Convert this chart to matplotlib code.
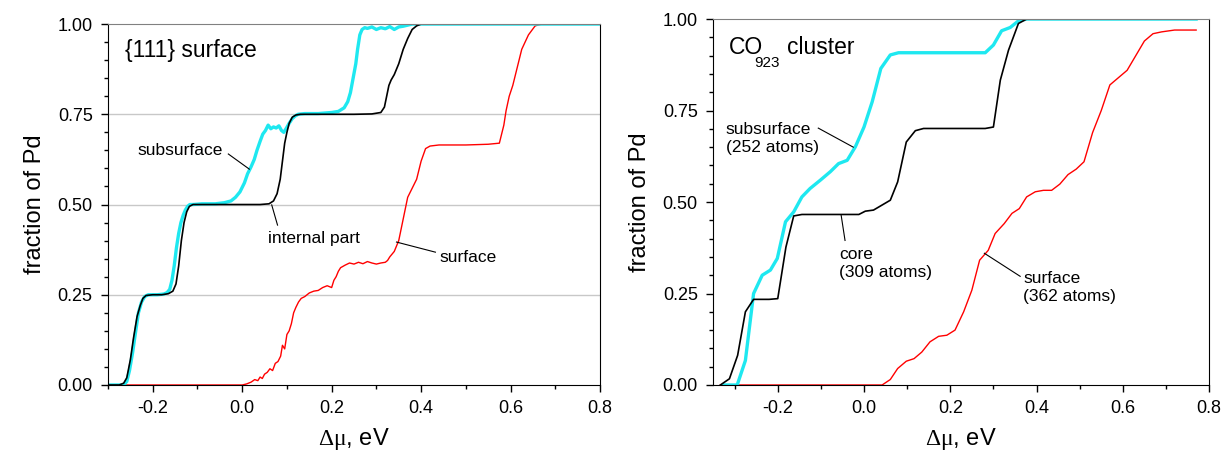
import numpy as np
import matplotlib
matplotlib.use("Agg")
from matplotlib import pyplot as plt
from matplotlib.ticker import MultipleLocator, FormatStrFormatter

plt.rcParams['font.family'] = ['Liberation Sans', 'DejaVu Sans']
plt.rcParams['axes.unicode_minus'] = False
plt.rcParams['mathtext.fontset'] = 'custom'
plt.rcParams['mathtext.rm'] = 'Liberation Sans'
plt.rcParams['mathtext.cal'] = 'Liberation Serif'

CYAN = '#1ee8f0'

# ---- left panel: {111} surface ----
int_x = [-0.30, -0.275, -0.265, -0.258, -0.25, -0.243, -0.235, -0.228, -0.222, -0.215, -0.20, -0.18,
         -0.165, -0.155, -0.148, -0.142, -0.136, -0.13, -0.124, -0.118, -0.11, -0.10, -0.08, -0.04, 0.0,
         0.04, 0.06, 0.07, 0.078, 0.085, 0.09, 0.095, 0.10, 0.105, 0.112, 0.12, 0.13, 0.15, 0.2, 0.25,
         0.29, 0.31, 0.318, 0.323, 0.328, 0.333, 0.34, 0.35, 0.36, 0.37, 0.38, 0.39, 0.40, 0.42, 0.5,
         0.6, 0.7, 0.8]
int_y = [0, 0.0, 0.005, 0.02, 0.07, 0.13, 0.19, 0.22, 0.24, 0.248, 0.25, 0.25,
         0.253, 0.26, 0.28, 0.33, 0.40, 0.45, 0.48, 0.495, 0.50, 0.5, 0.5, 0.5, 0.5,
         0.5, 0.502, 0.51, 0.53, 0.57, 0.62, 0.67, 0.70, 0.725, 0.742, 0.748, 0.75, 0.75, 0.75, 0.75,
         0.751, 0.755, 0.77, 0.80, 0.83, 0.845, 0.86, 0.89, 0.93, 0.96, 0.985, 0.995, 1.0, 1.0, 1.0,
         1.0, 1.0, 1.0]

sub_x = [-0.30, -0.265, -0.258, -0.252, -0.245, -0.238, -0.232, -0.225, -0.218, -0.21, -0.19, -0.175,
         -0.168, -0.162, -0.157, -0.152, -0.147, -0.142, -0.137, -0.132, -0.127, -0.122, -0.117, -0.11,
         -0.09, -0.06, -0.04, -0.025, -0.015, -0.005, 0.005, 0.012, 0.02, 0.027, 0.033, 0.04, 0.046,
         0.052, 0.058, 0.064, 0.07, 0.076, 0.082, 0.088, 0.093, 0.099, 0.105, 0.112, 0.118, 0.125, 0.14,
         0.17, 0.2, 0.215, 0.228, 0.236, 0.242, 0.248, 0.254, 0.258, 0.263, 0.268, 0.274, 0.28, 0.29,
         0.3, 0.31, 0.32, 0.33, 0.34, 0.35, 0.36, 0.37, 0.38, 0.4, 0.5, 0.6, 0.7, 0.8]
sub_y = [0, 0, 0.01, 0.04, 0.09, 0.15, 0.2, 0.23, 0.245, 0.25, 0.25, 0.252,
         0.256, 0.265, 0.29, 0.33, 0.38, 0.42, 0.45, 0.47, 0.485, 0.495, 0.5, 0.5,
         0.502, 0.502, 0.505, 0.51, 0.52, 0.535, 0.56, 0.585, 0.605, 0.625, 0.65, 0.675, 0.695,
         0.705, 0.72, 0.71, 0.715, 0.712, 0.718, 0.705, 0.7, 0.712, 0.725, 0.738, 0.745, 0.75, 0.752,
         0.752, 0.755, 0.758, 0.768, 0.785, 0.81, 0.85, 0.89, 0.93, 0.97, 0.985, 0.99, 0.988, 0.992,
         0.985, 0.99, 0.987, 0.993, 0.985, 0.992, 0.994, 0.997, 1.0, 1.0, 1.0, 1.0, 1.0, 1.0]

surf_x = [-0.3, 0.0, 0.01, 0.02, 0.028, 0.035, 0.04, 0.045, 0.05, 0.056, 0.062, 0.068, 0.074, 0.08,
          0.086, 0.09, 0.095, 0.1, 0.105, 0.11, 0.115, 0.12, 0.126, 0.132, 0.14, 0.15, 0.16, 0.17, 0.18,
          0.19, 0.2, 0.205, 0.21, 0.215, 0.22, 0.23, 0.24, 0.25, 0.26, 0.27, 0.28, 0.29, 0.3, 0.31, 0.32,
          0.325, 0.33, 0.34, 0.35, 0.36, 0.37, 0.38, 0.39, 0.40, 0.41, 0.42, 0.44, 0.5, 0.55, 0.575,
          0.585, 0.59, 0.597, 0.605, 0.615, 0.625, 0.64, 0.655, 0.67, 0.7, 0.8]
surf_y = [0, 0, 0.003, 0.008, 0.015, 0.012, 0.022, 0.018, 0.03, 0.035, 0.045, 0.04, 0.06, 0.065,
          0.08, 0.11, 0.1, 0.14, 0.15, 0.17, 0.2, 0.215, 0.23, 0.24, 0.245, 0.255, 0.26, 0.262, 0.27,
          0.275, 0.27, 0.29, 0.3, 0.315, 0.325, 0.332, 0.338, 0.335, 0.34, 0.336, 0.342, 0.338, 0.335,
          0.338, 0.34, 0.345, 0.355, 0.37, 0.40, 0.46, 0.52, 0.545, 0.57, 0.62, 0.655, 0.662, 0.665,
          0.665, 0.667, 0.67, 0.72, 0.76, 0.8, 0.83, 0.88, 0.93, 0.97, 0.995, 1.0, 1.0, 1.0]

# ---- right panel: CO923 cluster ----
csub_x = [-0.326, -0.294, -0.275, -0.256, -0.236, -0.217, -0.201, -0.182, -0.163, -0.144, -0.125,
          -0.101, -0.078, -0.059, -0.039, -0.02, 0.0, 0.019, 0.039, 0.061, 0.08, 0.12, 0.2, 0.281,
          0.3, 0.319, 0.339, 0.358, 0.377, 0.5, 0.6, 0.77]
csub_y = [0.0, 0.0, 0.067, 0.25, 0.3, 0.314, 0.346, 0.446, 0.473, 0.514, 0.537,
          0.56, 0.583, 0.605, 0.614, 0.651, 0.705, 0.774, 0.865, 0.902, 0.908, 0.908, 0.908, 0.908,
          0.929, 0.968, 0.977, 0.995, 1.0, 1.0, 1.0, 1.0]

core_x = [-0.333, -0.312, -0.293, -0.275, -0.256, -0.22, -0.2, -0.181, -0.163, -0.144, -0.1, -0.05,
          -0.012, 0.003, 0.022, 0.061, 0.078, 0.098, 0.119, 0.138, 0.2, 0.281, 0.3, 0.316, 0.335,
          0.358, 0.377, 0.5, 0.6, 0.77]
core_y = [0.0, 0.017, 0.081, 0.2, 0.234, 0.234, 0.236, 0.377, 0.462, 0.466, 0.466, 0.466,
          0.466, 0.475, 0.478, 0.505, 0.555, 0.664, 0.695, 0.701, 0.701, 0.701, 0.705, 0.833, 0.915,
          0.988, 1.0, 1.0, 1.0, 1.0]

csurf_x = [-0.333, 0.042, 0.061, 0.078, 0.098, 0.116, 0.134, 0.153, 0.173, 0.192, 0.211, 0.231,
           0.25, 0.268, 0.288, 0.304, 0.325, 0.343, 0.36, 0.377, 0.397, 0.416, 0.435, 0.454, 0.473,
           0.492, 0.51, 0.53, 0.55, 0.57, 0.59, 0.61, 0.63, 0.65, 0.67, 0.69, 0.72, 0.77]
csurf_y = [0.0, 0.0, 0.015, 0.045, 0.065, 0.072, 0.09, 0.118, 0.133, 0.136, 0.15, 0.2,
           0.259, 0.341, 0.368, 0.414, 0.441, 0.469, 0.482, 0.514, 0.528, 0.532, 0.532, 0.549, 0.575,
           0.59, 0.61, 0.69, 0.75, 0.82, 0.84, 0.86, 0.9, 0.94, 0.96, 0.965, 0.97, 0.97]


def style_axes(ax, xmin):
    ax.set_xlim(xmin, 0.8)
    ax.set_ylim(0, 1)
    ax.xaxis.set_major_locator(MultipleLocator(0.2))
    ax.xaxis.set_minor_locator(MultipleLocator(0.1))
    ax.yaxis.set_major_locator(MultipleLocator(0.25))
    ax.yaxis.set_minor_locator(MultipleLocator(0.05))
    ax.xaxis.set_major_formatter(FormatStrFormatter('%.1f'))
    ax.yaxis.set_major_formatter(FormatStrFormatter('%.2f'))
    ax.tick_params(which='major', direction='out', length=5, width=1, labelsize=13, pad=6)
    ax.tick_params(which='minor', direction='out', length=3, width=1)
    ax.spines['top'].set_color('#808080')
    for s in ('left', 'bottom', 'right'):
        ax.spines[s].set_color('black')
    ax.set_xlabel(r'$\mathcal{Δμ}$, eV', fontsize=17, labelpad=6)
    ax.set_ylabel('fraction of Pd', fontsize=17, labelpad=8)


fig = plt.figure(figsize=(12.26, 4.54), dpi=100)
ax1 = fig.add_axes([0.0881, 0.152, 0.4013, 0.795])
ax2 = fig.add_axes([0.5816, 0.152, 0.4046, 0.806])

for yv in (0.25, 0.5, 0.75):
    ax1.axhline(yv, color='#c8c8c8', lw=1, zorder=0)
ax1.plot(surf_x, surf_y, color='red', lw=1.0)
ax1.plot(sub_x, sub_y, color=CYAN, lw=2.4)
ax1.plot(int_x, int_y, color='black', lw=1.2)
style_axes(ax1, -0.3)

ax1.text(-0.263, 0.928, '{111} surface', fontsize=16.5, va='center', ha='left')
ax1.text(-0.234, 0.651, 'subsurface', fontsize=12.5, va='center', ha='left')
ax1.plot([-0.031, 0.016], [0.64, 0.598], color='black', lw=0.8)
ax1.text(0.057, 0.407, 'internal part', fontsize=12.5, va='center', ha='left')
ax1.plot([0.066, 0.079], [0.499, 0.443], color='black', lw=0.8)
ax1.text(0.442, 0.352, 'surface', fontsize=12.5, va='center', ha='left')
ax1.plot([0.345, 0.432], [0.396, 0.368], color='black', lw=0.8)

ax2.plot(csurf_x, csurf_y, color='red', lw=1.0)
ax2.plot(csub_x, csub_y, color=CYAN, lw=2.4)
ax2.plot(core_x, core_y, color='black', lw=1.2)
style_axes(ax2, -0.35)

ax2.text(-0.314, 0.921, 'CO', fontsize=16.5, va='center', ha='left')
ax2.text(-0.254, 0.88, '923', fontsize=11, va='center', ha='left')
ax2.text(-0.178, 0.921, 'cluster', fontsize=16.5, va='center', ha='left')
ax2.text(-0.321, 0.674, 'subsurface\n(252 atoms)', fontsize=12.5, va='center', ha='left',
         linespacing=1.25)
ax2.plot([-0.106, -0.025], [0.702, 0.65], color='black', lw=0.8)
ax2.text(-0.057, 0.333, 'core\n(309 atoms)', fontsize=12.5, va='center', ha='left', linespacing=1.25)
ax2.plot([-0.053, -0.044], [0.464, 0.395], color='black', lw=0.8)
ax2.text(0.369, 0.267, 'surface\n(362 atoms)', fontsize=12.5, va='center', ha='left', linespacing=1.25)
ax2.plot([0.279, 0.362], [0.36, 0.297], color='black', lw=0.8)

fig.savefig('out.png', dpi=100)
